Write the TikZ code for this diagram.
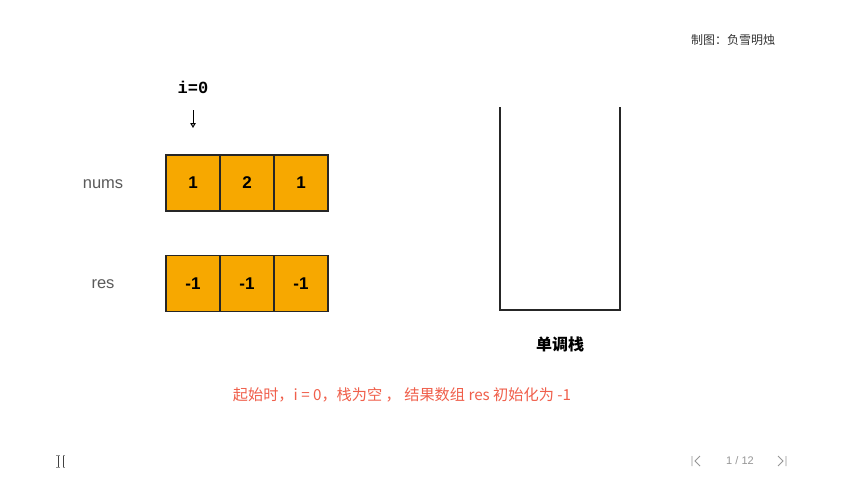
\documentclass[tikz,border=0pt]{standalone}
\usepackage{fontspec}
\setmainfont{Liberation Sans}
\newfontfamily\cjk{Noto Sans CJK SC}
\newfontfamily\monof{Liberation Mono}
\usetikzlibrary{arrows.meta}
\definecolor{cellfill}{RGB}{247,168,0}
\definecolor{labgray}{RGB}{90,90,90}
\definecolor{capred}{RGB}{240,95,75}
\definecolor{navgray}{RGB}{150,150,150}
\tikzset{
  cell/.style={draw=black!85, line width=1.3pt, fill=cellfill, minimum width=54pt, minimum height=56pt, inner sep=0pt, font=\fontsize{17}{17}\selectfont\bfseries},
  rowlab/.style={font=\fontsize{16.5}{16.5}\selectfont, text=labgray},
  stackline/.style={draw=black!85, line width=1.6pt},
}
\begin{document}
\begin{tikzpicture}[x=1pt,y=-1pt]
\useasboundingbox[fill=white] (0,0) rectangle (846,488);
% top right credit
\node[font=\cjk\fontsize{12}{12}\selectfont, text=black!80] (credit) at (733,40) {制图：负雪明烛};
% pointer
\node[font=\monof\bfseries\fontsize{17}{17}\selectfont] (iz) at (193,87) {i=0};
\coordinate (atop) at (193,110);
\coordinate (abot) at (193,128);
\draw[line width=1pt, -{Triangle[open,length=5pt,width=5.5pt]}] (atop) -- (abot);
% row labels
\node[rowlab] (numsl) at (103,184) {nums};
\node[rowlab] (resl) at (103,284) {res};
% nums cells
\node[cell] (n0) at (193,183) {1};
\node[cell] (n1) at (247,183) {2};
\node[cell] (n2) at (301,183) {1};
% res cells
\node[cell] (r0) at (193,283.5) {-1};
\node[cell] (r1) at (247,283.5) {-1};
\node[cell] (r2) at (301,283.5) {-1};
% stack
\coordinate (s1) at (500,107);
\coordinate (s2) at (500,310);
\coordinate (s3) at (620,310);
\coordinate (s4) at (620,107);
\draw[stackline] (s1) -- (s2) -- (s3) -- (s4);
\node[font=\cjk\bfseries\fontsize{16}{16}\selectfont] (stk) at (560,344) {单调栈};
% caption
\node[font=\cjk\fontsize{15.2}{15.2}\selectfont, text=capred] (cap) at (402,395) {起始时，i = 0，栈为空 ， 结果数组 res 初始化为 -1};
% bottom-left icon
\coordinate (ic1) at (58,455);
\coordinate (ic2) at (58,467);
\coordinate (ic3) at (63,455);
\coordinate (ic4) at (63,467);
\draw[black!75, line width=0.9pt] (ic1) -- (ic2) (ic3) -- (ic4);
\draw[navgray, line width=0.8pt] ([xshift=-2pt]ic1) -- ([xshift=2pt]ic1) ([xshift=-2pt]ic2) -- ([xshift=2pt]ic2) ([xshift=2pt]ic3) -- (ic3) ([xshift=2pt]ic4) -- (ic4);
% bottom-right navigation
\node[font=\fontsize{11}{11}\selectfont, text=navgray] (pg) at (740,461) {1 / 12};
\coordinate (l1) at (692,456);
\coordinate (l2) at (692,466);
\draw[navgray, line width=0.8pt] (l1) -- (l2) (700,456) -- (695,461) -- (700,466);
\coordinate (r1c) at (786,456);
\coordinate (r2c) at (786,466);
\draw[navgray, line width=0.8pt] (r1c) -- (r2c) (778,456) -- (783,461) -- (778,466);
\end{tikzpicture}
\end{document}
